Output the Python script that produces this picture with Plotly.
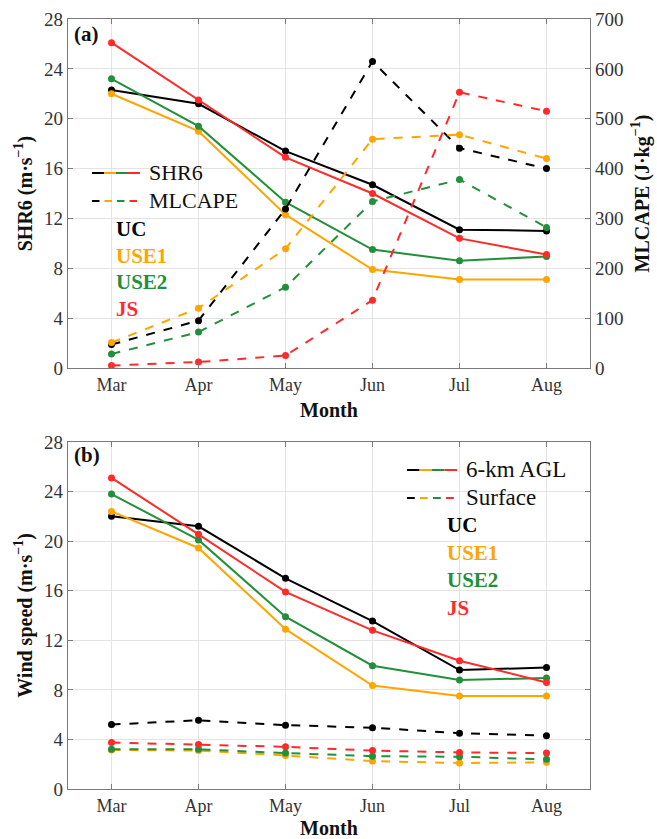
import plotly.graph_objects as go

months = ["Mar", "Apr", "May", "Jun", "Jul", "Aug"]
regions = ["UC", "USE1", "USE2", "JS"]
region_colors = ["#000000", "#FFA500", "#22903A", "#FF2A2A"]

# Panel (a): SHR6 (m/s)
shr6_uc = [22.3, 21.2, 17.4, 14.7, 11.1, 11.0]
shr6_use1 = [22.0, 19.0, 12.3, 7.9, 7.1, 7.1]
shr6_use2 = [23.2, 19.4, 13.3, 9.5, 8.6, 8.95]
shr6_js = [26.1, 21.5, 16.9, 14.0, 10.4, 9.1]

# Panel (a): MLCAPE (J/kg)
cape_uc = [47, 95, 319, 615, 441, 400]
cape_use1 = [51, 120, 239, 459, 468, 420]
cape_use2 = [28, 72, 162, 334, 378, 282]
cape_js = [5, 12, 25, 136, 553, 515]

# Panel (b): wind speed 6-km AGL (m/s)
w6_uc = [22.0, 21.2, 17.0, 13.55, 9.6, 9.8]
w6_use1 = [22.4, 19.45, 12.9, 8.35, 7.5, 7.5]
w6_use2 = [23.8, 20.1, 13.9, 9.95, 8.8, 8.95]
w6_js = [25.1, 20.55, 15.9, 12.8, 10.35, 8.6]

# Panel (b): surface wind speed (m/s)
sfc_uc = [5.2, 5.55, 5.15, 4.95, 4.5, 4.3]
sfc_use1 = [3.15, 3.1, 2.7, 2.25, 2.1, 2.15]
sfc_use2 = [3.2, 3.2, 2.9, 2.65, 2.6, 2.4]
sfc_js = [3.75, 3.6, 3.4, 3.1, 2.95, 2.9]

left_ticks = [0, 4, 8, 12, 16, 20, 24, 28]
cape_ticks = [0, 100, 200, 300, 400, 500, 600, 700]

shr6 = [shr6_uc, shr6_use1, shr6_use2, shr6_js]
cape = [cape_uc, cape_use1, cape_use2, cape_js]
w6 = [w6_uc, w6_use1, w6_use2, w6_js]
sfc = [sfc_uc, sfc_use1, sfc_use2, sfc_js]

FONT = "Liberation Serif"
AX = "#7a7a7a"
GRID = "#e3e3e3"
TICKC = "#333333"

W, H = 657, 839
ML, MR, MT, MB = 68, 67, 19, 50
PW = W - ML - MR
PH = H - MT - MB


def px(x):
    return (x - ML) / PW


def py(y):
    return (H - MB - y) / PH


fig = go.Figure()


def add_line(x, y, color, dash, xa, ya):
    fig.add_trace(go.Scatter(
        x=x, y=y, mode="lines+markers", xaxis=xa, yaxis=ya,
        line=dict(color=color, width=2, dash=dash),
        marker=dict(color=color, size=7, symbol="circle"),
        showlegend=False, hoverinfo="skip"))


for vals, c in zip(cape, region_colors):
    add_line(months, vals, c, "dash", "x", "y2")
for vals, c in zip(shr6, region_colors):
    add_line(months, vals, c, "solid", "x", "y")
for vals, c in zip(sfc, region_colors):
    add_line(months, vals, c, "dash", "x2", "y3")
for vals, c in zip(w6, region_colors):
    add_line(months, vals, c, "solid", "x2", "y3")

ya_top = py(368)
yb_top = py(442)

xcommon = dict(
    type="category", range=[-0.5, 5.5], showgrid=True, gridcolor=GRID,
    gridwidth=1, showline=True, linecolor=AX, linewidth=1.2,
    ticks="inside", ticklen=5, tickcolor=AX, mirror="ticks", automargin=False,
    tickfont=dict(family=FONT, size=18, color=TICKC),
    title=dict(text="<b>Month</b>", font=dict(family=FONT, size=20, color="#111"), standoff=9),
    zeroline=False,
)
ycommon = dict(
    range=[0, 28], tickvals=left_ticks, showgrid=True, gridcolor=GRID,
    gridwidth=1, showline=True, linecolor=AX, linewidth=1.2,
    ticks="inside", ticklen=5, tickcolor=AX, automargin=False,
    tickfont=dict(family=FONT, size=19, color=TICKC), zeroline=False,
)

layout = dict(
    width=W, height=H, margin=dict(l=ML, r=MR, t=MT, b=MB),
    paper_bgcolor="white", plot_bgcolor="white", showlegend=False,
    font=dict(family=FONT),
    xaxis=dict(xcommon, domain=[0, 1], anchor="y"),
    yaxis=dict(ycommon, domain=[ya_top, 1], anchor="x",
               title=dict(text="<b>SHR6 (m·s<sup>−1</sup>)</b>",
                          font=dict(family=FONT, size=20, color="#111"), standoff=6)),
    yaxis2=dict(range=[0, 700], tickvals=cape_ticks, overlaying="y", side="right",
                anchor="x", showgrid=False, showline=True, linecolor=AX, linewidth=1.2,
                ticks="inside", ticklen=5, tickcolor=AX, zeroline=False, automargin=False,
                tickfont=dict(family=FONT, size=19, color=TICKC),
                title=dict(text="<b>MLCAPE (J·kg<sup>−1</sup>)</b>",
                           font=dict(family=FONT, size=20, color="#111"), standoff=12)),
    xaxis2=dict(xcommon, domain=[0, 1], anchor="y3"),
    yaxis3=dict(ycommon, domain=[0, yb_top], anchor="x2", mirror="ticks",
                title=dict(text="<b>Wind speed (m·s<sup>−1</sup>)</b>",
                           font=dict(family=FONT, size=20, color="#111"), standoff=6)),
)
fig.update_layout(**layout)

annotations = []
shapes = []


def text(x, y, s, color="#111", size=22, bold=False):
    annotations.append(dict(
        x=px(x), y=py(y), xref="paper", yref="paper", xanchor="left", yanchor="middle",
        text=f"<b>{s}</b>" if bold else s, showarrow=False,
        font=dict(family=FONT, size=size, color=color)))


def legend_line(x0, x1, y, dashed):
    n = len(region_colors)
    seg = (x1 - x0) / n
    for i, c in enumerate(region_colors):
        a = x0 + i * seg
        b = a + seg
        if dashed:
            b = a + seg * 0.6
        shapes.append(dict(type="line", xref="paper", yref="paper",
                           x0=px(a), x1=px(b), y0=py(y), y1=py(y),
                           line=dict(color=c, width=2)))


# panel labels
text(72, 34, "(a)", bold=True, size=21)
text(72, 455, "(b)", bold=True, size=21)

# panel (a) legend
legend_line(92, 140, 173, False)
legend_line(92, 142, 201, True)
text(147, 173, "SHR6", size=22)
text(147, 201, "MLCAPE", size=22)
for i, (r, c) in enumerate(zip(regions, region_colors)):
    text(114, 229 + i * 26.5, r, color=c, size=21, bold=True)

# panel (b) legend
legend_line(407, 457, 470, False)
legend_line(407, 459, 498, True)
text(464, 470, "6-km AGL", size=23)
text(464, 498, "Surface", size=23)
for i, (r, c) in enumerate(zip(regions, region_colors)):
    text(445, 525 + i * 27.7, r, color=c, size=21, bold=True)

fig.update_layout(annotations=annotations, shapes=shapes)
fig.write_html("out.html")
